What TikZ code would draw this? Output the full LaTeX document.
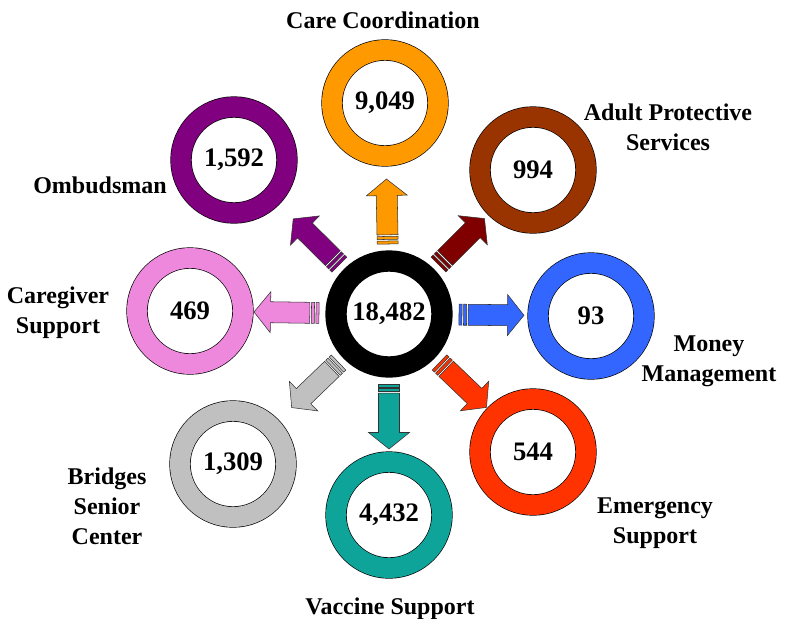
\documentclass[tikz,border=0pt]{standalone}
\usepackage{fontspec}
\setmainfont{Liberation Serif}
\usetikzlibrary{calc}
\definecolor{cOrange}{HTML}{FF9900}
\definecolor{cPurple}{HTML}{800080}
\definecolor{cBrown}{HTML}{993300}
\definecolor{cDarkRed}{HTML}{800000}
\definecolor{cPink}{HTML}{EE88DD}
\definecolor{cBlue}{HTML}{3366FF}
\definecolor{cGray}{HTML}{C0C0C0}
\definecolor{cTeal}{HTML}{0FA499}
\definecolor{cRed}{HTML}{FF3300}
\definecolor{cEdge}{HTML}{333333}
\tikzset{
  ring/.style={circle, draw=black, line width=0.5pt, double=#1, double distance=15pt,
    minimum size=79.5pt, inner sep=0pt, font=\fontsize{20}{22}\selectfont\bfseries},
  lbl/.style={align=center, inner sep=0pt, font=\fontsize{18}{22.5}\selectfont\bfseries},
  arrowpart/.style={fill=#1, draw=cEdge, line width=0.4pt},
  pics/sarrow/.style={code={
    \path[arrowpart=#1] (70,-10.5) rectangle (73,10.5);
    \path[arrowpart=#1] (74.6,-10.5) rectangle (77.6,10.5);
    \path[arrowpart=#1] (79.2,-10.5) -- (118.5,-10.5) -- (118.5,-20.5) -- (135,0)
       -- (118.5,20.5) -- (118.5,10.5) -- (79.2,10.5) -- cycle;
  }}
}
\begin{document}
\begin{tikzpicture}[x=0.75pt, y=-0.75pt]
\useasboundingbox (0,0) rectangle (789,618);
% rings
\node[ring=black]    (ctr)     at (389,314) {18,482};
\node[ring=cOrange]  (care)    at (385,103) {9,049};
\node[ring=cPurple]  (omb)     at (234,160) {1,592};
\node[ring=cBrown]   (aps)     at (533,170) {994};
\node[ring=cPink]    (cg)      at (190,311) {469};
\node[ring=cBlue]    (money)   at (591,316) {93};
\node[ring=cGray]    (bridges) at (233,464) {1,309};
\node[ring=cTeal]    (vaccine) at (389,515) {4,432};
\node[ring=cRed]     (emerg)   at (533,452) {544};
% labels
\node[lbl] (lcare)    at (383,20)  {Care Coordination};
\node[lbl] (lomb)     at (100,185) {Ombudsman};
\node[lbl] (laps)     at (668,127) {Adult Protective\\Services};
\node[lbl] (lcg)      at (58,313)  {Caregiver\\Support};
\node[lbl] (lmoney)   at (709,361) {Money\\Management};
\node[lbl] (lemerg)   at (655,523) {Emergency\\Support};
\node[lbl] (lbridges) at (107,506) {Bridges\\Senior\\Center};
\node[lbl] (lvaccine) at (390,609) {Vaccine Support};
% striped arrows
\foreach \t/\c in {care/cOrange, omb/cPurple, aps/cDarkRed, cg/cPink, money/cBlue, bridges/cGray, vaccine/cTeal, emerg/cRed}{
  \path let \p1=($(\t)-(ctr)$), \n1={atan2(\y1,\x1)} in (ctr) pic[rotate=\n1]{sarrow=\c};
}
\end{tikzpicture}
\end{document}
